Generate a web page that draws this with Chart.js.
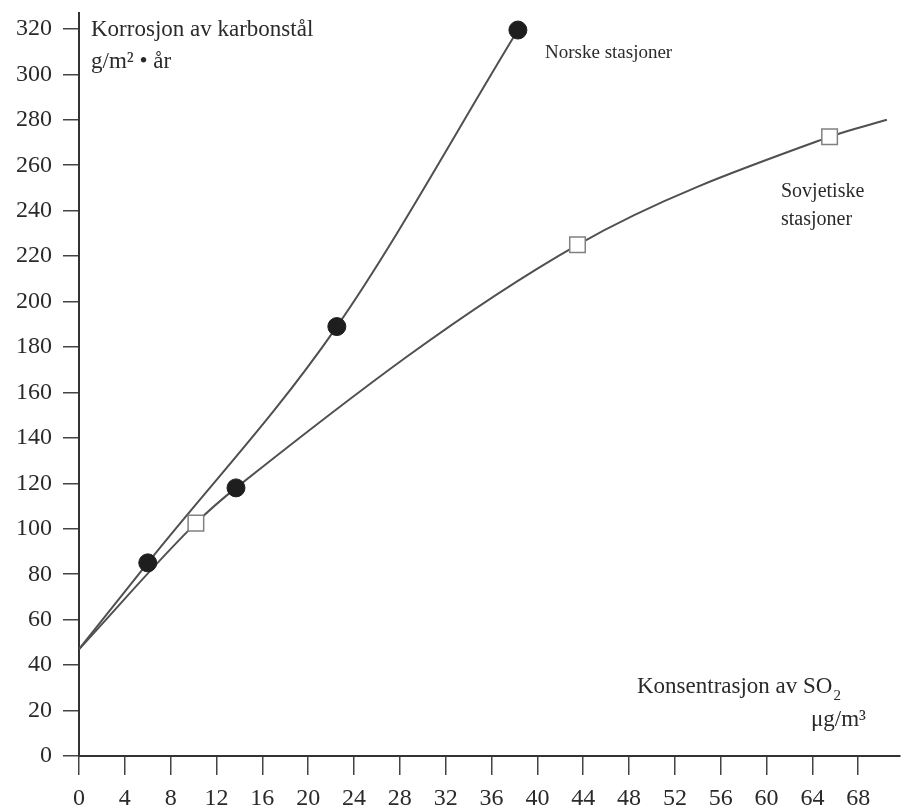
<!DOCTYPE html>
<html>
<head>
<meta charset="utf-8">
<script src="https://cdn.jsdelivr.net/npm/chart.js@4.4.1/dist/chart.umd.min.js"></script>
<style>
html,body{margin:0;padding:0;background:#fff;}
#wrap{width:912px;height:809px;position:relative;}
</style>
</head>
<body>
<div id="wrap"><canvas id="c"></canvas></div>
<script>
// ---- data ----
const xTickValues = [0,4,8,12,16,20,24,28,32,36,40,44,48,52,56,60,64,68];
const yTickValues = [0,20,40,60,80,100,120,140,160,180,200,220,240,260,280,300,320];

// Norwegian stations (filled circles)
const norskeX = [6.0, 13.7, 22.5, 38.3];
const norskeY = [85, 118, 189, 319.5];
// Soviet stations (open squares)
const sovjetX = [10.2, 43.5, 65.5];
const sovjetY = [102.5, 225, 272.5];

// fitted curves as drawn
const curveNorskeX = [0, 6.0, 22.5, 38.3];
const curveNorskeY = [47, 85, 189, 319.5];
const curveSovjetX = [0, 10.2, 13.7, 43.5, 65.5, 70.5];
const curveSovjetY = [47, 102.5, 118, 225, 272.5, 280];

const pts = (xs, ys) => xs.map((x, i) => ({x: x, y: ys[i]}));

const SERIF = '"Liberation Serif", "DejaVu Serif", serif';
const INK = '#2a2a2a';

const textPlugin = {
  id: 'texts',
  afterDraw(chart) {
    const ctx = chart.ctx;
    ctx.save();
    ctx.fillStyle = INK;
    ctx.textBaseline = 'middle';
    ctx.textAlign = 'left';
    ctx.font = '23px ' + SERIF;
    ctx.fillText('Korrosjon av karbonstål', 91, 30);
    ctx.fillText('g/m² • år', 91, 62);

    ctx.font = '19px ' + SERIF;
    ctx.fillText('Norske stasjoner', 545, 53);
    ctx.font = '20px ' + SERIF;
    ctx.fillText('Sovjetiske', 781, 192);
    ctx.fillText('stasjoner', 781, 220);

    ctx.font = '23px ' + SERIF;
    const t = 'Konsentrasjon av SO';
    ctx.fillText(t, 637, 687);
    const w = ctx.measureText(t).width;
    ctx.font = '15px ' + SERIF;
    ctx.fillText('2', 637 + w + 1, 696);
    ctx.font = '23px ' + SERIF;
    ctx.textAlign = 'right';
    ctx.fillText('μg/m³', 866, 720);
    ctx.restore();
  }
};

new Chart(document.getElementById('c'), {
  type: 'scatter',
  data: {
    datasets: [
      {
        label: 'Norske stasjoner (kurve)',
        type: 'line',
        data: pts(curveNorskeX, curveNorskeY),
        borderColor: '#505050',
        borderWidth: 2,
        pointRadius: 0,
        fill: false,
        tension: 0.4,
        cubicInterpolationMode: 'monotone',
        order: 2
      },
      {
        label: 'Sovjetiske stasjoner (kurve)',
        type: 'line',
        data: pts(curveSovjetX, curveSovjetY),
        borderColor: '#505050',
        borderWidth: 2,
        pointRadius: 0,
        fill: false,
        tension: 0.4,
        cubicInterpolationMode: 'monotone',
        order: 2
      },
      {
        label: 'Sovjetiske stasjoner',
        data: pts(sovjetX, sovjetY),
        pointStyle: 'rect',
        pointRadius: 11,
        pointBackgroundColor: '#ffffff',
        pointBorderColor: '#808080',
        pointBorderWidth: 1.5,
        order: 1
      },
      {
        label: 'Norske stasjoner',
        data: pts(norskeX, norskeY),
        pointStyle: 'circle',
        pointRadius: 9,
        pointBackgroundColor: '#1e1e1e',
        pointBorderColor: '#1e1e1e',
        pointBorderWidth: 1,
        order: 0
      }
    ]
  },
  options: {
    responsive: true,
    maintainAspectRatio: false,
    animation: false,
    events: [],
    layout: {padding: {top: 13, right: 4, left: 0, bottom: 0}},
    plugins: {legend: {display: false}, tooltip: {enabled: false}, title: {display: false}},
    scales: {
      x: {
        type: 'linear',
        min: 0,
        max: 71.6,
        afterBuildTicks: s => { s.ticks = xTickValues.map(v => ({value: v})); },
        afterFit: s => { s.height = 53; s.paddingLeft = 0; s.paddingRight = 0; },
        border: {display: true, color: '#333', width: 2},
        grid: {drawOnChartArea: false, drawTicks: true, tickLength: 19, color: '#444', lineWidth: 1.5},
        ticks: {autoSkip: false, maxRotation: 0, minRotation: 0, padding: 9,
                color: INK, font: {family: SERIF, size: 24}}
      },
      y: {
        type: 'linear',
        min: 0,
        max: 327,
        afterBuildTicks: s => { s.ticks = yTickValues.map(v => ({value: v})); },
        afterFit: s => { s.width = 79; s.paddingTop = 0; s.paddingBottom = 0; },
        border: {display: true, color: '#333', width: 2},
        grid: {drawOnChartArea: false, drawTicks: true, tickLength: 16, color: '#444', lineWidth: 1.5},
        ticks: {autoSkip: false, padding: 11, color: INK, font: {family: SERIF, size: 24}}
      }
    }
  },
  plugins: [textPlugin]
});
</script>
</body>
</html>
